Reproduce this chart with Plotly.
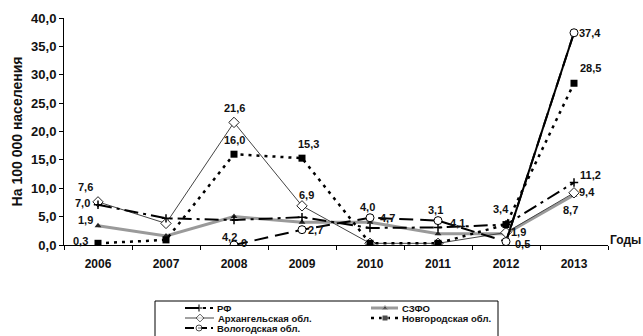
import plotly.graph_objects as go

years = ["2006", "2007", "2008", "2009", "2010", "2011", "2012", "2013"]

rf = [7.1, 4.7, 4.4, 4.9, 3.0, 3.1, 3.6, 11.0]
szfo = [3.4, 1.6, 5.0, 4.0, 4.0, 2.0, 2.0, 8.8]
arkh = [7.6, 3.8, 21.6, 6.9, 0.3, 0.3, 2.2, 9.2]
novg = [0.3, 0.9, 16.0, 15.3, 0.3, 0.3, 3.6, 28.5]
volog = [None, None, 0.0, 2.7, 4.8, 4.3, 0.6, 37.4]

rf_lbl = ["7,0", None, "4,2", None, None, None, None, "11,2"]
szfo_lbl = ["1,9", None, None, None, "4,7", "4,1", None, "8,7"]
arkh_lbl = ["7,6", None, "21,6", "6,9", None, None, "1,9", "9,4"]
novg_lbl = ["0,3", None, "16,0", "15,3", None, None, "3,4", "28,5"]
volog_lbl = [None, None, "0", "2,7", "4,0", "3,1", "0,5", "37,4"]

y_ticks = [0, 5, 10, 15, 20, 25, 30, 35, 40]
y_tick_text = ["0,0", "5,0", "10,0", "15,0", "20,0", "25,0", "30,0", "35,0", "40,0"]

FONT = "Liberation Sans, Arial, sans-serif"
W, H = 643, 336

# series styles
styles = {
    "РФ": dict(line=dict(color="black", width=2, dash="14px,5px,3px,5px"),
               marker=dict(symbol="cross-thin", size=6, color="black",
                           line=dict(color="black", width=1.5))),
    "СЗФО": dict(line=dict(color="#9a9a9a", width=3),
                 marker=dict(symbol="triangle-up", size=6, color="#222222")),
    "Архангельская обл.": dict(line=dict(color="#444444", width=1),
                               marker=dict(symbol="diamond", size=8, color="white",
                                           line=dict(color="#222222", width=1))),
    "Новгородская обл.": dict(line=dict(color="black", width=2.5, dash="3px,5px"),
                              marker=dict(symbol="square", size=7, color="black")),
    "Вологодская обл.": dict(line=dict(color="black", width=2, dash="14px,7px"),
                             marker=dict(symbol="circle", size=8, color="white",
                                         line=dict(color="black", width=1))),
}

fig = go.Figure()

for name, vals in [("СЗФО", szfo), ("Архангельская обл.", arkh), ("РФ", rf),
                   ("Новгородская обл.", novg)]:
    fig.add_trace(go.Scatter(x=years, y=vals, name=name, mode="lines+markers",
                             showlegend=False, **styles[name]))
fig.add_trace(go.Scatter(
    x=years[6:], y=volog[6:], mode="lines", showlegend=False,
    line=dict(color="black", width=2),
))
fig.add_trace(go.Scatter(x=years, y=volog, name="Вологодская обл.",
                         mode="lines+markers", showlegend=False,
                         **styles["Вологодская обл."]))

# label offsets (px): (dx, dy up)
rf_off = [(-16, 2), None, (-5, -17), None, None, None, None, (16, 8)]
szfo_off = [(-13, 6), None, None, None, (17, 4), (19, 11), None, (-4, -15)]
arkh_off = [(-13, 15), None, (0, 14), (4, 11), None, None, (12, 1), (13, 1)]
novg_off = [(-18, 2), None, (0, 14), (6, 14), None, None, (-5, 16), (16, 15)]
volog_off = [None, None, (10, 2), (13, 0), (-3, 11), (-3, 11), (16, -2), (16, 0)]

annotations = []
for vals, lbls, offs in [(rf, rf_lbl, rf_off), (szfo, szfo_lbl, szfo_off),
                         (arkh, arkh_lbl, arkh_off), (novg, novg_lbl, novg_off),
                         (volog, volog_lbl, volog_off)]:
    for i, (v, t, o) in enumerate(zip(vals, lbls, offs)):
        if t is None or v is None:
            continue
        annotations.append(dict(
            x=i, y=v, xref="x", yref="y", text="<b>%s</b>" % t,
            showarrow=False, xshift=o[0], yshift=o[1],
            font=dict(family=FONT, size=11, color="#111111"),
        ))

annotations.append(dict(
    x=608, y=240, xref="x2", yref="y2", text="<b>Годы</b>",
    showarrow=False, xanchor="left", yanchor="middle",
    font=dict(family=FONT, size=12, color="#111111"),
))

# ---- manual legend (pixel coordinates on a hidden overlay axis) ----
legend_items = [
    ("РФ", 185, 199, 213, 308),
    ("СЗФО", 371, 385, 398, 308),
    ("Архангельская обл.", 185, 200, 214, 318),
    ("Новгородская обл.", 371, 385, 398, 318),
    ("Вологодская обл.", 185, 199, 213, 328),
]
legend_marker_size = {"РФ": 5, "СЗФО": 5, "Архангельская обл.": 6,
                      "Новгородская обл.": 6, "Вологодская обл.": 6}
for name, x0, xm, x1, yy in legend_items:
    st = styles[name]
    ln = dict(st["line"])
    if name == "Вологодская обл.":
        ln["dash"] = "9px,4px"
    if name == "РФ":
        ln["dash"] = "14px,4px,3px,4px"
    mk = dict(st["marker"])
    sz = legend_marker_size[name]
    mk["size"] = [0, sz, 0]
    fig.add_trace(go.Scatter(
        x=[x0, xm, x1], y=[yy, yy, yy], xaxis="x2", yaxis="y2",
        mode="lines+markers", line=ln, marker=mk, showlegend=False,
        hoverinfo="skip",
    ))
    annotations.append(dict(
        x=x1 + 2, y=yy, xref="x2", yref="y2", text="<b>%s</b>" % name,
        showarrow=False, xanchor="left", yanchor="middle",
        font=dict(family=FONT, size=9.5, color="#111111"),
    ))

shapes = [dict(type="rect", xref="x2", yref="y2", x0=155, x1=498, y0=301, y1=350,
               line=dict(color="black", width=1), fillcolor="rgba(0,0,0,0)")]

fig.update_layout(
    width=W, height=H,
    margin=dict(l=0, r=0, t=0, b=0, autoexpand=False),
    paper_bgcolor="white", plot_bgcolor="rgba(0,0,0,0)",
    font=dict(family=FONT, size=11, color="#111111"),
    annotations=annotations, shapes=shapes,
    showlegend=False,
    xaxis=dict(
        domain=[64 / W, 608 / W], anchor="y",
        type="category", categoryorder="array", categoryarray=years,
        range=[-0.5, 7.5],
        tickson="boundaries", ticks="outside", ticklen=4, tickcolor="black",
        showline=True, linecolor="black", linewidth=1, showgrid=False,
        tickfont=dict(family=FONT, size=12, color="#111111", weight="bold"),
        ticklabelstandoff=8, zeroline=False,
    ),
    yaxis=dict(
        domain=[1 - 245 / H, 1 - 18 / H], anchor="x",
        range=[0, 40], tickvals=y_ticks, ticktext=y_tick_text,
        ticks="outside", ticklen=4, tickcolor="black",
        showline=True, linecolor="black", linewidth=1, showgrid=False,
        zeroline=False,
        tickfont=dict(family=FONT, size=13, color="#111111", weight="bold"),
        title=dict(text="<b>На 100 000 населения</b>", standoff=5,
                   font=dict(family=FONT, size=14, color="#111111")),
    ),
    xaxis2=dict(domain=[0, 1], range=[0, W], anchor="y2", visible=False,
                fixedrange=True),
    yaxis2=dict(domain=[0, 1], range=[H, 0], anchor="x2", visible=False,
                fixedrange=True),
)

fig.write_html("out.html", config={"displayModeBar": False},
               post_script="document.body.style.margin='0';"
                           "document.body.style.overflow='hidden';")
